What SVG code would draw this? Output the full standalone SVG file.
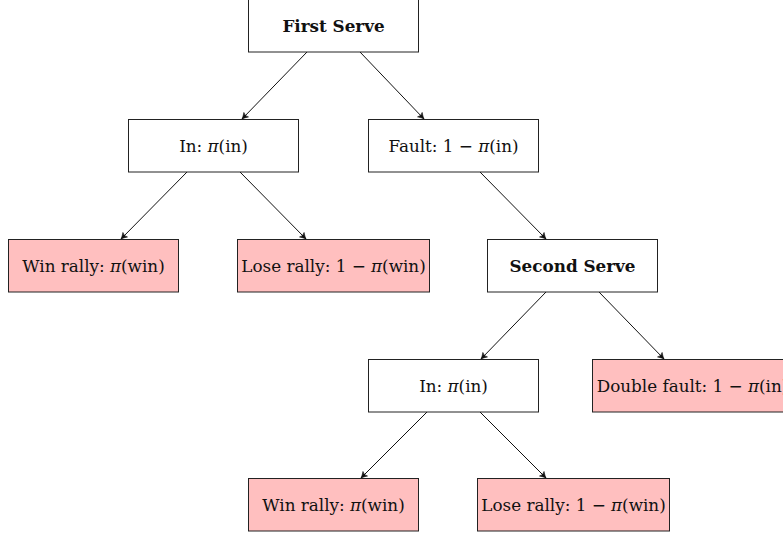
<svg xmlns="http://www.w3.org/2000/svg" width="783" height="537" viewBox="0 0 783 537">
<style>
.box{fill:#fff;stroke:#222;stroke-width:1}
.leaf{fill:#ffbfbf;stroke:#222;stroke-width:1}
text{font-family:"DejaVu Serif","Liberation Serif",serif;font-size:16.8px;fill:#111;text-anchor:middle;dominant-baseline:central}
.b{font-weight:bold}
.m{font-style:italic}
.e{stroke:#111;stroke-width:1;fill:none;marker-end:url(#ah)}
</style>
<defs>
<marker id="ah" markerWidth="10" markerHeight="10" refX="7" refY="5" orient="auto" markerUnits="userSpaceOnUse">
<path d="M1,1.8 Q4.5,4.2 7,5 Q4.5,5.8 1,8.2 Q3,5 1,1.8 Z" fill="#111" stroke="#111" stroke-width="0.6" stroke-linejoin="round"/>
</marker>
</defs>
<rect width="783" height="537" fill="#fff"/>
<g id="edges">
<line class="e" x1="307" y1="52" x2="242" y2="119"/>
<line class="e" x1="360" y1="52" x2="424" y2="119"/>
<line class="e" x1="187" y1="172" x2="121" y2="239"/>
<line class="e" x1="240" y1="172" x2="306" y2="239"/>
<line class="e" x1="480" y1="172" x2="546" y2="239"/>
<line class="e" x1="546" y1="292" x2="481" y2="359"/>
<line class="e" x1="599" y1="292" x2="664" y2="359"/>
<line class="e" x1="427" y1="412" x2="361" y2="478"/>
<line class="e" x1="480" y1="412" x2="546" y2="478"/>
</g>
<g id="first-serve"><rect class="box" x="248.5" y="-0.5" width="170" height="52.5"/><text class="b" x="333.5" y="26">First Serve</text></g>
<g id="in1"><rect class="box" x="128.5" y="119.5" width="170" height="52.5"/><text x="213.5" y="145.5">In: <tspan class="m">π</tspan>(in)</text></g>
<g id="fault"><rect class="box" x="368.5" y="119.5" width="170" height="52.5"/><text x="453.5" y="145.5">Fault: 1 − <tspan class="m">π</tspan>(in)</text></g>
<g id="win1"><rect class="leaf" x="8.5" y="239.5" width="170" height="52.5"/><text x="93.5" y="265.5">Win rally: <tspan class="m">π</tspan>(win)</text></g>
<g id="lose1"><rect class="leaf" x="237.5" y="239.5" width="192" height="52.5"/><text x="333.5" y="265.5">Lose rally: 1 − <tspan class="m">π</tspan>(win)</text></g>
<g id="second-serve"><rect class="box" x="487.5" y="239.5" width="170" height="52.5"/><text class="b" x="572.5" y="265.5">Second Serve</text></g>
<g id="in2"><rect class="box" x="368.5" y="359.5" width="170" height="52.5"/><text x="453.5" y="385.5">In: <tspan class="m">π</tspan>(in)</text></g>
<g id="double-fault"><rect class="leaf" x="592.5" y="359.5" width="200" height="52.5"/><text x="692.5" y="385.5">Double fault: 1 − <tspan class="m">π</tspan>(in)</text></g>
<g id="win2"><rect class="leaf" x="248.5" y="478.5" width="170" height="52.5"/><text x="333.5" y="504.5">Win rally: <tspan class="m">π</tspan>(win)</text></g>
<g id="lose2"><rect class="leaf" x="477.5" y="478.5" width="192" height="52.5"/><text x="573.5" y="504.5">Lose rally: 1 − <tspan class="m">π</tspan>(win)</text></g>
</svg>
